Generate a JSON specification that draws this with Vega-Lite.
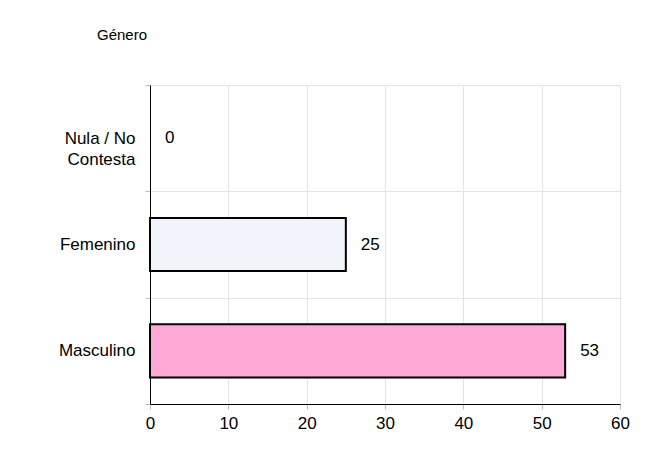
{
  "$schema": "https://vega.github.io/schema/vega-lite/v6.json",
  "width": 470,
  "height": 319,
  "autosize": "none",
  "padding": {"left": 150, "top": 85, "right": 37, "bottom": 59},
  "background": "white",
  "title": {
    "text": "Género",
    "anchor": "start",
    "frame": "group",
    "dx": -53,
    "offset": 21,
    "baseline": "alphabetic",
    "font": "Liberation Sans",
    "fontSize": 15,
    "fontWeight": "normal",
    "color": "#000000"
  },
  "data": {
    "values": [
      {"genero": "Nula / No Contesta", "valor": 0, "tipo": "nula"},
      {"genero": "Femenino", "valor": 25, "tipo": "fem"},
      {"genero": "Masculino", "valor": 53, "tipo": "masc"}
    ]
  },
  "encoding": {
    "y": {
      "field": "genero",
      "type": "nominal",
      "sort": null,
      "scale": {"paddingInner": 0, "paddingOuter": 0},
      "axis": {
        "title": null,
        "tickBand": "extent",
        "grid": true,
        "gridColor": "#e3e3e3",
        "tickColor": "#bbbbbb",
        "tickSize": 5,
        "domainColor": "#000000",
        "labelFont": "Liberation Sans",
        "labelFontSize": 17,
        "labelColor": "#000000",
        "labelPadding": 10,
        "labelLineHeight": 21,
        "labelExpr": "datum.label == 'Nula / No Contesta' ? ['Nula / No', 'Contesta'] : datum.label"
      }
    }
  },
  "layer": [
    {
      "mark": {"type": "bar", "height": {"band": 0.5}, "stroke": "#000000", "strokeWidth": 2},
      "encoding": {
        "x": {
          "field": "valor",
          "type": "quantitative",
          "scale": {"domain": [0, 60]},
          "axis": {
            "title": null,
            "values": [0, 10, 20, 30, 40, 50, 60],
            "grid": true,
            "gridColor": "#e3e3e3",
            "tickColor": "#bbbbbb",
            "tickSize": 5,
            "domainColor": "#000000",
            "labelFont": "Liberation Sans",
            "labelFontSize": 17,
            "labelColor": "#000000",
            "labelPadding": 6,
            "labelFlush": false
          }
        },
        "fill": {
          "field": "tipo",
          "type": "nominal",
          "scale": {"domain": ["nula", "fem", "masc"], "range": ["#ffffff", "#f1f5fb", "#ffa9d6"]},
          "legend": null
        },
        "strokeOpacity": {
          "condition": {"test": "datum.valor > 0", "value": 1},
          "value": 0
        }
      }
    },
    {
      "mark": {"type": "text", "align": "left", "dx": 15, "font": "Liberation Sans", "fontSize": 17, "color": "#000000"},
      "encoding": {
        "x": {"field": "valor", "type": "quantitative"},
        "text": {"field": "valor", "type": "quantitative"}
      }
    }
  ],
  "config": {
    "view": {"stroke": null}
  }
}
